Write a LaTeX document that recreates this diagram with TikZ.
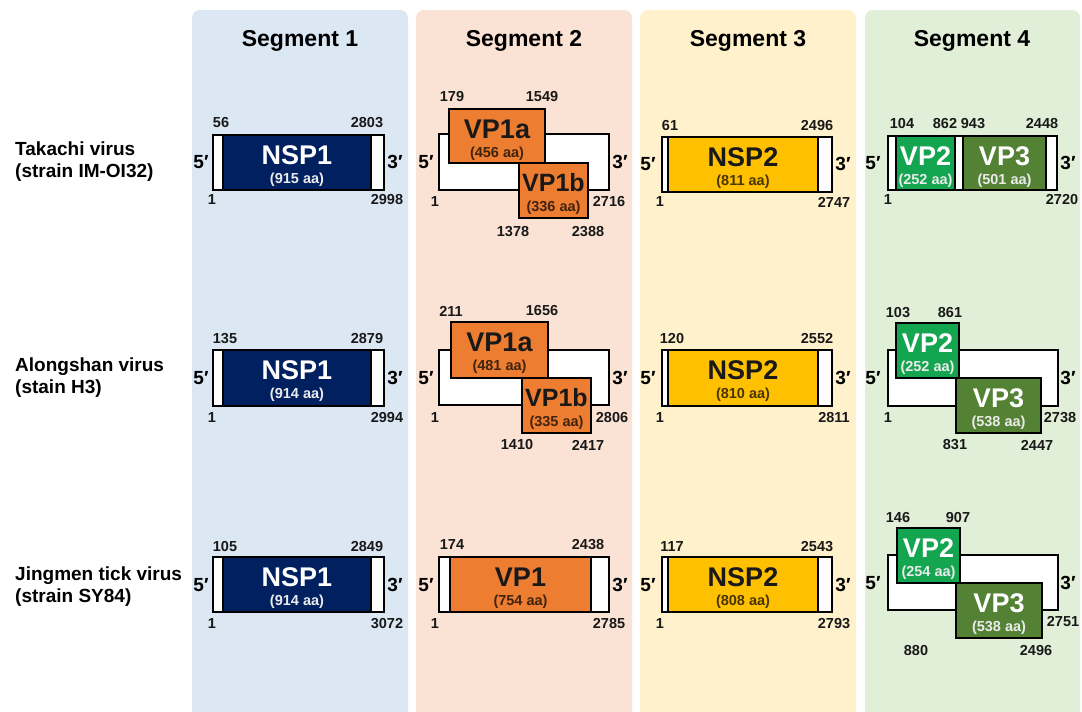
\documentclass[tikz,border=0pt]{standalone}
\usepackage{fontspec}
\setmainfont{Liberation Sans}
\usetikzlibrary{fit}
\definecolor{bgA}{HTML}{DCE7F4}
\definecolor{bgB}{HTML}{FAE3D5}
\definecolor{bgC}{HTML}{FFF1CC}
\definecolor{bgD}{HTML}{E1EFD8}
\definecolor{cNavy}{HTML}{002060}
\definecolor{cOrange}{HTML}{ED7D31}
\definecolor{cGold}{HTML}{FFC000}
\definecolor{cGreen}{HTML}{14A550}
\definecolor{cOlive}{HTML}{548235}
\newcommand\orfbox[6]{%
  \node[orfb, box#4, fit={(#2)(#3)}] (#1) {};
  \node[ttl, ttl#4] (#1-t) at ([yshift=-20pt]#1.north) {#5};
  \node[sub, sub#4] (#1-s) at ([yshift=-45pt]#1.north) {#6};
}
\begin{document}
\begin{tikzpicture}[x=1pt,y=-1pt,
  genome/.style={draw=black, fill=white, line width=1.1pt, inner sep=0pt, outer sep=0pt},
  orfb/.style={draw=black, line width=1.1pt, inner sep=0pt, outer sep=0pt},
  boxnavy/.style={fill=cNavy}, ttlnavy/.style={text=white}, subnavy/.style={text=white!92!black},
  boxorange/.style={fill=cOrange}, ttlorange/.style={text=black!90}, suborange/.style={text=black!72!cOrange},
  boxorb/.style={fill=cOrange}, ttlorb/.style={text=black!90, font=\fontsize{25}{28}\selectfont\bfseries}, suborb/.style={text=black!72!cOrange},
  boxgold/.style={fill=cGold}, ttlgold/.style={text=black!90}, subgold/.style={text=black!72!cGold},
  boxgreen/.style={fill=cGreen}, ttlgreen/.style={text=white}, subgreen/.style={text=white!92!black},
  boxolive/.style={fill=cOlive}, ttlolive/.style={text=white}, subolive/.style={text=white!92!black},
  ttl/.style={font=\fontsize{27}{30}\selectfont\bfseries, inner sep=0pt},
  sub/.style={font=\fontsize{14.5}{16}\selectfont\bfseries, inner sep=0pt},
  num/.style={font=\fontsize{14.5}{16}\selectfont\bfseries, inner sep=0pt, text=black!90},
  prime/.style={font=\fontsize{19}{22}\selectfont\bfseries, inner sep=0pt},
  head/.style={font=\fontsize{23}{26}\selectfont\bfseries, inner sep=0pt},
  virus/.style={font=\fontsize{19}{22}\selectfont\bfseries, anchor=west, inner sep=0pt, align=left}
]
\useasboundingbox (0,0) rectangle (1082,712);
\begin{scope}
\clip (0,0) rectangle (1082,712);
\fill[bgA, rounded corners=8pt] (192,10) rectangle (408,740);
\fill[bgB, rounded corners=8pt] (416,10) rectangle (632,740);
\fill[bgC, rounded corners=8pt] (640,10) rectangle (856,740);
\fill[bgD, rounded corners=8pt] (865,10) rectangle (1080,740);
\end{scope}
% headers
\node[head] (h1) at (300,41) {Segment 1};
\node[head] (h2) at (524,41) {Segment 2};
\node[head] (h3) at (748,41) {Segment 3};
\node[head] (h4) at (972,41) {Segment 4};
% virus labels
\node[virus] (v1) at (15,162) {Takachi virus\\(strain IM-OI32)};
\node[virus] (v2) at (15,378) {Alongshan virus\\(stain H3)};
\node[virus] (v3) at (15,587) {Jingmen tick virus\\(strain SY84)};

% ---------- Segment 1 ----------
\node[genome, fit={(213,135)(384,190)}] (g11) {};
\orfbox{n11}{223,135}{371,190}{navy}{NSP1}{(915 aa)}
\node[num] (g11a) at (221,123) {56};
\node[num] (g11b) at (367,123) {2803};
\node[num] (g11c) at (212,200) {1};
\node[num] (g11d) at (387,200) {2998};
\node[prime] (g11p5) at (201,162) {5′};
\node[prime] (g11p3) at (395,162) {3′};

\node[genome, fit={(213,350)(384,406)}] (g12) {};
\orfbox{n12}{223,350}{371,406}{navy}{NSP1}{(914 aa)}
\node[num] (g12a) at (225,339) {135};
\node[num] (g12b) at (367,339) {2879};
\node[num] (g12c) at (212,418) {1};
\node[num] (g12d) at (387,418) {2994};
\node[prime] (g12p5) at (201,378) {5′};
\node[prime] (g12p3) at (395,378) {3′};

\node[genome, fit={(213,557)(384,612)}] (g13) {};
\orfbox{n13}{223,557}{371,612}{navy}{NSP1}{(914 aa)}
\node[num] (g13a) at (225,547) {105};
\node[num] (g13b) at (367,547) {2849};
\node[num] (g13c) at (212,624) {1};
\node[num] (g13d) at (387,624) {3072};
\node[prime] (g13p5) at (201,585) {5′};
\node[prime] (g13p3) at (395,585) {3′};

% ---------- Segment 2 ----------
\node[genome, fit={(439,134)(609,190)}] (g21) {};
\orfbox{a21}{449,109}{545,163}{orange}{VP1a}{(456 aa)}
\orfbox{b21}{519,163}{588,218}{orb}{VP1b}{(336 aa)}
\node[num] (g21a) at (452,97) {179};
\node[num] (g21b) at (542,97) {1549};
\node[num] (g21c) at (435,202) {1};
\node[num] (g21d) at (609,202) {2716};
\node[num] (g21e) at (513,232) {1378};
\node[num] (g21f) at (588,232) {2388};
\node[prime] (g21p5) at (426,162) {5′};
\node[prime] (g21p3) at (620,162) {3′};

\node[genome, fit={(439,350)(609,405)}] (g22) {};
\orfbox{a22}{451,322}{548,378}{orange}{VP1a}{(481 aa)}
\orfbox{b22}{522,378}{591,433}{orb}{VP1b}{(335 aa)}
\node[num] (g22a) at (451,311) {211};
\node[num] (g22b) at (542,311) {1656};
\node[num] (g22c) at (435,418) {1};
\node[num] (g22d) at (612,418) {2806};
\node[num] (g22e) at (517,445) {1410};
\node[num] (g22f) at (588,445) {2417};
\node[prime] (g22p5) at (426,378) {5′};
\node[prime] (g22p3) at (620,378) {3′};

\node[genome, fit={(439,557)(609,612)}] (g23) {};
\orfbox{n23}{450,557}{591,612}{orange}{VP1}{(754 aa)}
\node[num] (g23a) at (452,545) {174};
\node[num] (g23b) at (588,545) {2438};
\node[num] (g23c) at (435,624) {1};
\node[num] (g23d) at (609,624) {2785};
\node[prime] (g23p5) at (426,585) {5′};
\node[prime] (g23p3) at (620,585) {3′};

% ---------- Segment 3 ----------
\node[genome, fit={(662,137)(832,192)}] (g31) {};
\orfbox{n31}{668,137}{818,192}{gold}{NSP2}{(811 aa)}
\node[num] (g31a) at (670,126) {61};
\node[num] (g31b) at (817,126) {2496};
\node[num] (g31c) at (660,202) {1};
\node[num] (g31d) at (834,202) {2747};
\node[prime] (g31p5) at (648,164) {5′};
\node[prime] (g31p3) at (843,164) {3′};

\node[genome, fit={(662,350)(832,406)}] (g32) {};
\orfbox{n32}{668,350}{818,406}{gold}{NSP2}{(810 aa)}
\node[num] (g32a) at (672,339) {120};
\node[num] (g32b) at (817,339) {2552};
\node[num] (g32c) at (660,418) {1};
\node[num] (g32d) at (834,418) {2811};
\node[prime] (g32p5) at (648,378) {5′};
\node[prime] (g32p3) at (843,378) {3′};

\node[genome, fit={(662,557)(832,612)}] (g33) {};
\orfbox{n33}{668,557}{818,612}{gold}{NSP2}{(808 aa)}
\node[num] (g33a) at (672,547) {117};
\node[num] (g33b) at (817,547) {2543};
\node[num] (g33c) at (660,624) {1};
\node[num] (g33d) at (834,624) {2793};
\node[prime] (g33p5) at (648,585) {5′};
\node[prime] (g33p3) at (843,585) {3′};

% ---------- Segment 4 ----------
\node[genome, fit={(888,136)(1057,190)}] (g41) {};
\orfbox{p41}{896,136}{955,190}{green}{VP2}{(252 aa)}
\orfbox{q41}{963,136}{1046,190}{olive}{VP3}{(501 aa)}
\node[num] (g41a) at (902,124) {104};
\node[num] (g41b) at (945,124) {862};
\node[num] (g41c) at (973,124) {943};
\node[num] (g41d) at (1042,124) {2448};
\node[num] (g41e) at (888,200) {1};
\node[num] (g41f) at (1062,200) {2720};
\node[prime] (g41p5) at (873,163) {5′};
\node[prime] (g41p3) at (1068,163) {3′};

\node[genome, fit={(888,350)(1058,406)}] (g42) {};
\orfbox{p42}{896,323}{959,378}{green}{VP2}{(252 aa)}
\orfbox{q42}{956,378}{1041,433}{olive}{VP3}{(538 aa)}
\node[num] (g42a) at (898,313) {103};
\node[num] (g42b) at (950,313) {861};
\node[num] (g42c) at (888,418) {1};
\node[num] (g42d) at (1060,418) {2738};
\node[num] (g42e) at (955,445) {831};
\node[num] (g42f) at (1037,445) {2447};
\node[prime] (g42p5) at (873,378) {5′};
\node[prime] (g42p3) at (1068,378) {3′};

\node[genome, fit={(888,555)(1058,610)}] (g43) {};
\orfbox{p43}{897,528}{960,583}{green}{VP2}{(254 aa)}
\orfbox{q43}{956,583}{1042,638}{olive}{VP3}{(538 aa)}
\node[num] (g43a) at (898,518) {146};
\node[num] (g43b) at (958,518) {907};
\node[num] (g43d) at (1063,622) {2751};
\node[num] (g43e) at (916,651) {880};
\node[num] (g43f) at (1036,651) {2496};
\node[prime] (g43p5) at (873,583) {5′};
\node[prime] (g43p3) at (1068,583) {3′};
\end{tikzpicture}
\end{document}
